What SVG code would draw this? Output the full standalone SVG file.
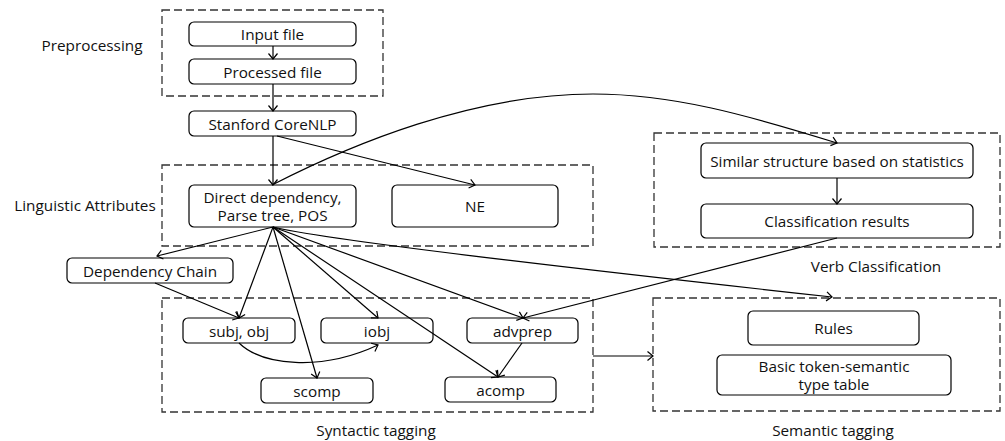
<svg xmlns="http://www.w3.org/2000/svg" width="1005" height="441" viewBox="0 0 1005 441">
  <style>
    .stage { fill: none; stroke: #333; stroke-width: 1.3; stroke-dasharray: 8 4; }
    .box { fill: #fff; stroke: #000; stroke-width: 1.2; }
    text { font-family: "Open Sans", "Noto Sans", "DejaVu Sans", sans-serif; font-size: 15.3px; fill: #111; text-anchor: middle; dominant-baseline: central; }
    .edge { fill: none; stroke: #000; stroke-width: 1.2; marker-end: url(#arrow); }
  </style>
  <defs>
    <marker id="arrow" markerUnits="userSpaceOnUse" markerWidth="12" markerHeight="12" viewBox="-7 -6 8 12" refX="0" refY="0" orient="auto">
      <path d="M-5.5,-4.5 L0,0 L-5.5,4.5" fill="none" stroke="#000" stroke-width="1.2"/>
    </marker>
  </defs>
  <rect width="1005" height="441" fill="#fff"/>

  <!-- stage frames and captions -->
  <g id="stages">
    <rect class="stage" x="162" y="10" width="221" height="86"/>
    <text x="92" y="45">Preprocessing</text>
    <rect class="stage" x="162" y="165" width="431" height="81"/>
    <text x="85" y="205">Linguistic Attributes</text>
    <rect class="stage" x="654" y="133" width="346" height="114"/>
    <text x="876" y="266">Verb Classification</text>
    <rect class="stage" x="162" y="298" width="431" height="114"/>
    <text x="376" y="430">Syntactic tagging</text>
    <rect class="stage" x="653" y="298" width="347" height="113"/>
    <text x="833" y="430">Semantic tagging</text>
  </g>

  <!-- nodes -->
  <g id="input-file">
    <rect class="box" x="189" y="22" width="167" height="24" rx="5"/>
    <text x="272.5" y="34">Input file</text>
  </g>
  <g id="processed-file">
    <rect class="box" x="189" y="59" width="167" height="25" rx="5"/>
    <text x="272.5" y="71.5">Processed file</text>
  </g>
  <g id="stanford-corenlp">
    <rect class="box" x="189" y="111" width="167" height="25" rx="5"/>
    <text x="272.5" y="123.5">Stanford CoreNLP</text>
  </g>
  <g id="direct-dependency">
    <rect class="box" x="189" y="185" width="167" height="42" rx="5"/>
    <text x="272.5" y="197">Direct dependency,</text>
    <text x="272.5" y="215">Parse tree, POS</text>
  </g>
  <g id="ne">
    <rect class="box" x="392" y="185" width="166" height="42" rx="5"/>
    <text x="475" y="206">NE</text>
  </g>
  <g id="similar-structure">
    <rect class="box" x="701" y="143" width="272" height="35" rx="5"/>
    <text x="837" y="160.5">Similar structure based on statistics</text>
  </g>
  <g id="classification-results">
    <rect class="box" x="701" y="204" width="272" height="34" rx="5"/>
    <text x="837" y="221">Classification results</text>
  </g>
  <g id="dependency-chain">
    <rect class="box" x="67" y="258" width="166" height="25" rx="5"/>
    <text x="150" y="270.5">Dependency Chain</text>
  </g>
  <g id="subj-obj">
    <rect class="box" x="183" y="318" width="112" height="25" rx="5"/>
    <text x="239" y="330.5">subj, obj</text>
  </g>
  <g id="iobj">
    <rect class="box" x="321" y="318" width="112" height="25" rx="5"/>
    <text x="377" y="330.5">iobj</text>
  </g>
  <g id="advprep">
    <rect class="box" x="467" y="318" width="111" height="25" rx="5"/>
    <text x="522.5" y="330.5">advprep</text>
  </g>
  <g id="scomp">
    <rect class="box" x="261" y="378" width="112" height="25" rx="5"/>
    <text x="317" y="390.5">scomp</text>
  </g>
  <g id="acomp">
    <rect class="box" x="445" y="377" width="111" height="25" rx="5"/>
    <text x="500.5" y="389.5">acomp</text>
  </g>
  <g id="rules">
    <rect class="box" x="748" y="311" width="171" height="34" rx="5"/>
    <text x="833.5" y="328">Rules</text>
  </g>
  <g id="token-type-table">
    <rect class="box" x="717" y="355" width="234" height="40" rx="5"/>
    <text x="834" y="366">Basic token-semantic</text>
    <text x="834" y="384">type table</text>
  </g>

  <!-- connectors -->
  <g id="connectors">
    <path class="edge" d="M273,46 L273,59"/>
    <path class="edge" d="M273,84 L273,111"/>
    <path class="edge" d="M273,136 L273,185"/>
    <path class="edge" d="M277,136 L475,185"/>
    <path class="edge" d="M272,185 C352,144 473,94 593,94 C673,94 747,115 837,143"/>
    <path class="edge" d="M837,178 L837,204"/>
    <path class="edge" d="M273,227 L157,256"/>
    <path class="edge" d="M155,283 L239,318"/>
    <path class="edge" d="M273,227 L239,318"/>
    <path class="edge" d="M273,227 L317,378"/>
    <path class="edge" d="M273,227 L378,318"/>
    <path class="edge" d="M273,227 L498,377"/>
    <path class="edge" d="M273,227 L523,318"/>
    <path class="edge" d="M837,238 L523,318"/>
    <path class="edge" d="M522,343 L498,377"/>
    <path class="edge" d="M239,343 C262,365 320,372 378,345"/>
    <path class="edge" d="M273,227 Q330,242 832,297"/>
    <path class="edge" d="M593,356 L653,356"/>
  </g>
</svg>
